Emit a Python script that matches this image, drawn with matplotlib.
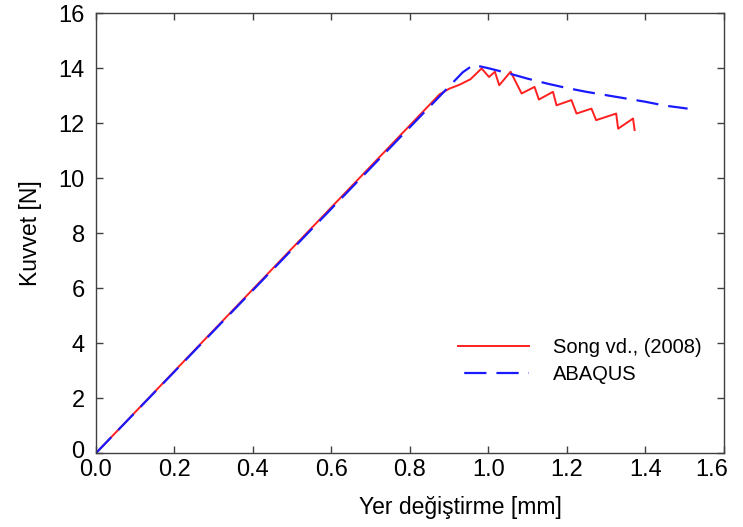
"""Kuvvet - yer degistirme egrisi: Song vd. (2008) ile ABAQUS karsilastirmasi"""

import matplotlib.pyplot as plt
import matplotlib.transforms as mtransforms

plt.rcParams['font.family'] = ['Liberation Sans', 'DejaVu Sans']

# Song vd., (2008) - referans egri
song_x = [0.0, 0.876, 0.90, 0.927, 0.955, 0.983, 1.002, 1.017, 1.028, 1.057,
          1.085, 1.118, 1.129, 1.165, 1.174, 1.212, 1.225, 1.263, 1.275,
          1.326, 1.331, 1.369, 1.373]
song_y = [0.0, 13.05, 13.25, 13.40, 13.60, 13.99, 13.68, 13.87, 13.38, 13.87,
          13.08, 13.32, 12.86, 13.14, 12.65, 12.84, 12.35, 12.53, 12.11,
          12.35, 11.80, 12.17, 11.75]

# ABAQUS sonucu
abaqus_x = [0.0, 0.935, 0.962, 1.0, 1.05, 1.10, 1.15, 1.20, 1.25, 1.30,
            1.35, 1.40, 1.45, 1.508]
abaqus_y = [0.0, 13.85, 14.12, 14.00, 13.82, 13.62, 13.44, 13.28, 13.14, 13.02,
            12.90, 12.78, 12.64, 12.53]

x_ticks = [0.0, 0.2, 0.4, 0.6, 0.8, 1.0, 1.2, 1.4, 1.6]
y_ticks = [0, 2, 4, 6, 8, 10, 12, 14, 16]

fig = plt.figure(figsize=(7.43, 5.27), dpi=100)
ax = fig.add_axes([0.129, 0.140, 0.845, 0.835])

ax.plot(song_x, song_y, color='#ff2020', linewidth=1.4, label='Song vd., (2008)')
ax.plot(abaqus_x, abaqus_y, color='#1a1aff', linewidth=1.6,
        dashes=(10, 4.5), label='ABAQUS')

ax.set_xlim(0, 1.6)
ax.set_ylim(0, 16)
ax.set_xticks(x_ticks)
ax.set_xticklabels([f'{v:.1f}' for v in x_ticks])
ax.set_yticks(y_ticks)
ax.tick_params(direction='in', top=True, right=True, length=5, width=1,
               color='#404040', labelsize=17)
ax.tick_params(axis='x', pad=4)
ax.tick_params(axis='y', pad=8)
for side in ax.spines.values():
    side.set_color('#404040')
    side.set_linewidth(1.0)

# small nudges of the corner labels, as in the original
last = ax.get_xticklabels()[-1]
last.set_transform(last.get_transform() +
                   mtransforms.ScaledTranslation(-12 / 100, 0, fig.dpi_scale_trans))
first_y = ax.get_yticklabels()[0]
first_y.set_transform(first_y.get_transform() +
                      mtransforms.ScaledTranslation(0, 4 / 100, fig.dpi_scale_trans))

ax.set_xlabel('Yer değiştirme [mm]', fontsize=16.5)
ax.xaxis.set_label_coords(0.58, -0.097)
ax.set_ylabel('Kuvvet [N]', fontsize=16.5, labelpad=12)

leg = ax.legend(loc='upper left', bbox_to_anchor=(0.561, 0.284), frameon=False,
                borderpad=0, fontsize=14.5, handlelength=3.5, handletextpad=1.2,
                labelspacing=0.4)
leg.get_lines()[1].set_linestyle((11.7, (10, 4.5)))

fig.savefig('out.png', dpi=100)
